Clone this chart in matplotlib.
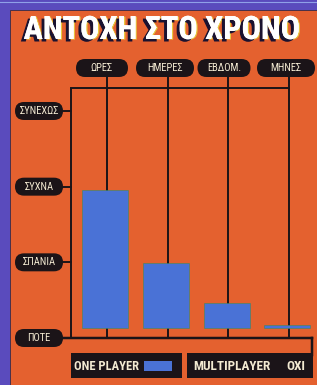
import matplotlib
matplotlib.use("Agg")
import matplotlib.pyplot as plt
from matplotlib.patches import FancyBboxPatch, Rectangle
import matplotlib.patheffects as pe
from matplotlib import font_manager as fm

# ---- data ----
categories = ['ΩΡΕΣ', 'ΗΜΕΡΕΣ', 'ΕΒΔΟΜ.', 'ΜΗΝΕΣ']
levels = ['ΠΟΤΕ', 'ΣΠΑΝΙΑ', 'ΣΥΧΝΑ', 'ΣΥΝΕΧΩΣ']
one_player = [1.96, 0.99, 0.46, 0.17]
title = 'ΑΝΤΟΧΗ ΣΤΟ ΧΡΟΝΟ'
legend_one = 'ONE PLAYER'
legend_multi = 'MULTIPLAYER'
multi_value = 'ΟΧΙ'

# ---- style ----
PURPLE = '#5a4bbd'
ORANGE = '#e4612f'
BLUE = '#4a72d6'
BLACK = '#1b1418'
CREAM = '#f3ead2'

names = {f.name for f in fm.fontManager.ttflist}
FONT = 'DejaVu Sans'
for cand in ['Liberation Sans Narrow', 'Roboto Condensed', 'Open Sans Condensed',
             'DejaVu Sans Condensed', 'Noto Sans Condensed']:
    if cand in names:
        FONT = cand
        break
FONTS = [FONT, 'DejaVu Sans']

W, H, DPI = 317, 385, 100
fig = plt.figure(figsize=(W / DPI, H / DPI), dpi=DPI, facecolor=PURPLE)
ax = fig.add_axes([0, 0, 1, 1])
ax.set_facecolor(PURPLE)

px_x0, px_dx = 107.0, 60.67
px_y0, px_dy = 338.0, 75.67
ax.set_xlim((0 - px_x0) / px_dx, (W - px_x0) / px_dx)
ax.set_ylim((px_y0 - H) / px_dy, px_y0 / px_dy)
ax.axis('off')
asp = px_dx / px_dy

def X(p):
    return (p - px_x0) / px_dx

def Y(p):
    return (px_y0 - p) / px_dy

renderer = fig.canvas.get_renderer()

def fit(txt, width_px):
    bb = txt.get_window_extent(renderer=renderer)
    if bb.width > width_px:
        txt.set_fontsize(txt.get_fontsize() * width_px / bb.width)

# orange panel
ax.add_patch(Rectangle((X(10), Y(385)), X(317) - X(10), Y(10) - Y(385),
                       fc=ORANGE, ec='#3a2a40', lw=0.6, zorder=0))
ax.plot([X(0), X(317)], [Y(2), Y(2)], color='#8fa0e8', lw=0.8, zorder=0)

# title
t = ax.text(X(162), Y(30), title, ha='center', va='center', color='white',
            fontsize=30, fontweight='bold', family=FONTS, zorder=5)
fit(t, 276)
t.set_path_effects([pe.withSimplePatchShadow(offset=(1.0, -0.4), shadow_rgbFace='#e8c840', alpha=1),
                    pe.withSimplePatchShadow(offset=(-2.2, -1.8), shadow_rgbFace='#1a1230', alpha=1),
                    pe.Normal()])

LW = 1.4
x_left = X(71)
y_top = Y(88)
n = len(categories)
xs = list(range(n))

ax.plot([x_left, x_left], [0, y_top], color=BLACK, lw=LW, zorder=2, solid_capstyle='butt')
ax.plot([x_left, xs[-1]], [y_top, y_top], color=BLACK, lw=LW, zorder=2)
ax.plot([X(60), X(312)], [0, 0], color=BLACK, lw=LW + 0.4, zorder=2)
ax.plot([X(312), X(312)], [0, Y(355)], color=BLACK, lw=LW + 0.4, zorder=2)

def pill(cx, cy, w_px, h_px, text, fs):
    w = w_px / px_dx
    h = h_px / px_dy
    r = (h_px / 2) / px_dx
    p = FancyBboxPatch((cx - w / 2, cy - h / 2), w, h,
                       boxstyle=f'round,pad=0,rounding_size={r}',
                       mutation_aspect=asp, fc=BLACK, ec='none', zorder=4)
    ax.add_patch(p)
    tt = ax.text(cx, cy, text, ha='center', va='center', color=CREAM, fontsize=fs,
                 family=FONTS, zorder=5)
    fit(tt, w_px - 6)

head_px = [102, 165, 224, 286]
head_w = [52, 58, 53, 58]
for i, cat in enumerate(categories):
    ax.plot([xs[i], xs[i]], [0, Y(76)], color=BLACK, lw=LW, zorder=2)
    pill(X(head_px[i]), Y(68), head_w[i], 18, cat, 7.6)

for j, lev in enumerate(levels):
    pill(X(39), j, 48, 18, lev, 7.6)
    ax.plot([X(62), x_left], [j, j], color=BLACK, lw=LW, zorder=2)

BAR_BASE = 0.13
bar_w = 46 / px_dx
ax.bar([x - 0.03 for x in xs], [v - BAR_BASE for v in one_player], bottom=BAR_BASE,
       width=bar_w, color=BLUE, edgecolor='#3e8a5a', linewidth=0.4, zorder=3)

ax.add_patch(Rectangle((X(71), Y(378)), X(182) - X(71), Y(353) - Y(378), fc=BLACK, ec='none', zorder=4))
ax.add_patch(Rectangle((X(187), Y(378)), X(313) - X(187), Y(353) - Y(378), fc=BLACK, ec='none', zorder=4))
t1 = ax.text(X(74), Y(366), legend_one, ha='left', va='center', color=CREAM, fontsize=10.5,
             family=FONTS, fontweight='bold', zorder=5)
fit(t1, 65)
ax.add_patch(Rectangle((X(144), Y(371)), X(172) - X(144), Y(361) - Y(371), fc=BLUE, ec='none', zorder=5))
t2 = ax.text(X(193), Y(366), legend_multi, ha='left', va='center', color=CREAM, fontsize=10.5,
             family=FONTS, fontweight='bold', zorder=5)
fit(t2, 78)
t3 = ax.text(X(305), Y(366), multi_value, ha='right', va='center', color=CREAM,
             fontsize=t2.get_fontsize(), family=FONTS, fontweight='bold', zorder=5)

fig.savefig('out.png', dpi=DPI, facecolor=PURPLE)
